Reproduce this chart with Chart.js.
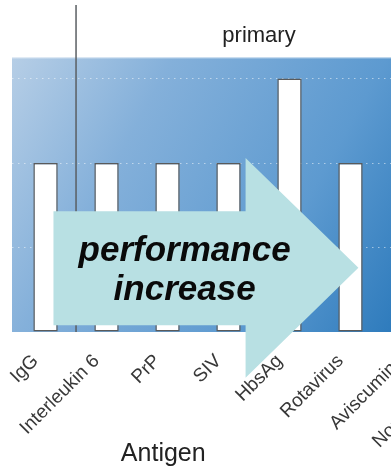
<!DOCTYPE html>
<html>
<head>
<meta charset="utf-8">
<script src="https://cdn.jsdelivr.net/npm/chart.js@4.4.1/dist/chart.umd.min.js"></script>
<style>
  html, body { margin: 0; padding: 0; background: #fff; overflow: hidden; }
  #wrap { position: relative; width: 391px; height: 468px; overflow: hidden; }
  #c { position: absolute; left: -60px; top: 0; }
</style>
</head>
<body>
<div id="wrap"><canvas id="c" width="600" height="468"></canvas></div>
<script>
// Antigen panel: one bar per antigen
const categories = ['IgG', 'Interleukin 6', 'PrP', 'SIV', 'HbsAg', 'Rotavirus', 'Aviscumine', 'Norovirus VLP'];
const responseValues = [2, 2, 2, 2, 3, 2, null, null];
const yTicks = [0, 1, 2, 3];
const panelTitle = 'primary';
const axisTitle = 'Antigen';
const arrowLines = ['performance', 'increase'];

const FONT = "'Liberation Sans', Arial, Helvetica, sans-serif";
Chart.defaults.font.family = FONT;

// gradient panel background, divider line and top edge
const panelDecor = {
  id: 'panelDecor',
  beforeDraw(chart) {
    const { ctx, chartArea: a } = chart;
    const g = ctx.createLinearGradient(a.left, a.top, a.right, a.bottom);
    g.addColorStop(0.0, '#b6cee6');
    g.addColorStop(0.25, '#84b0da');
    g.addColorStop(0.58, '#5d9ad0');
    g.addColorStop(0.84, '#2b79bb');
    g.addColorStop(1.0, '#1f6aae');
    ctx.save();
    ctx.fillStyle = g;
    ctx.fillRect(a.left, a.top, a.right - a.left, a.bottom - a.top);
    ctx.strokeStyle = 'rgba(255,255,255,0.55)';
    ctx.lineWidth = 1;
    ctx.beginPath();
    ctx.moveTo(a.left, a.top + 0.5);
    ctx.lineTo(a.right, a.top + 0.5);
    ctx.stroke();
    ctx.restore();
  },
  beforeDatasetsDraw(chart) {
    const { ctx, chartArea: a, scales } = chart;
    const x = scales.x.getPixelForValue(0.5);
    ctx.save();
    ctx.strokeStyle = '#5a5f63';
    ctx.lineWidth = 1.5;
    ctx.beginPath();
    ctx.moveTo(x, 5);
    ctx.lineTo(x, a.bottom);
    ctx.stroke();
    ctx.restore();
  }
};

// overlay arrow with caption, and the axis title
const arrowOverlay = {
  id: 'arrowOverlay',
  afterDraw(chart) {
    const { ctx, scales } = chart;
    const X = v => scales.x.getPixelForValue(v);
    const Y = v => scales.y.getPixelForValue(v);
    const bodyL = X(0.13), neck = X(3.28), tip = X(5.13);
    const bodyT = Y(1.43), bodyB = Y(0.08);
    const headT = Y(2.06), headB = Y(-0.54), tipY = Y(0.76);
    ctx.save();
    ctx.fillStyle = '#b8e0e3';
    ctx.beginPath();
    ctx.moveTo(bodyL, bodyT);
    ctx.lineTo(neck, bodyT);
    ctx.lineTo(neck, headT);
    ctx.lineTo(tip, tipY);
    ctx.lineTo(neck, headB);
    ctx.lineTo(neck, bodyB);
    ctx.lineTo(bodyL, bodyB);
    ctx.closePath();
    ctx.fill();

    ctx.fillStyle = '#0a0a0a';
    ctx.font = "italic bold 35px " + FONT;
    ctx.textAlign = 'center';
    ctx.textBaseline = 'middle';
    const cx = X(2.28);
    ctx.fillText(arrowLines[0], cx, Y(0.95));
    ctx.fillText(arrowLines[1], cx, Y(0.49));

    ctx.fillStyle = '#222';
    ctx.font = "25px " + FONT;
    ctx.textBaseline = 'alphabetic';
    ctx.fillText(axisTitle, X(1.93), 461);
    ctx.restore();
  }
};

new Chart(document.getElementById('c'), {
  type: 'bar',
  data: {
    datasets: [{
      data: categories.map((c, i) => ({ x: i, y: responseValues[i] })),
      backgroundColor: '#ffffff',
      borderColor: '#5a5a5a',
      borderWidth: 1.5,
      borderSkipped: false,
      barPercentage: 0.4,
      categoryPercentage: 1.0
    }]
  },
  options: {
    responsive: false,
    animation: false,
    devicePixelRatio: 1,
    layout: { padding: { left: 72, right: 34, top: 0, bottom: 0 } },
    plugins: {
      legend: { display: false },
      tooltip: { enabled: false },
      title: {
        display: true,
        text: panelTitle,
        color: '#222',
        font: { size: 22, weight: 'normal' },
        padding: { top: 23, bottom: 8 }
      }
    },
    scales: {
      x: {
        type: 'linear',
        min: -0.55,
        max: 7.55,
        offset: false,
        afterBuildTicks: axis => { axis.ticks = categories.map((c, i) => ({ value: i })); },
        afterFit: axis => { axis.height = 136; },
        grid: { display: false },
        border: { display: false },
        ticks: {
          autoSkip: false,
          minRotation: 45,
          maxRotation: 45,
          padding: 10,
          labelOffset: -10,
          color: '#383838',
          font: { size: 19 },
          callback: v => categories[v] ?? ''
        }
      },
      y: {
        min: 0,
        max: 3.25,
        afterBuildTicks: axis => { axis.ticks = yTicks.map(v => ({ value: v })); },
        afterFit: axis => { axis.width = 0; },
        ticks: { display: false },
        grid: {
          drawTicks: false,
          color: 'rgba(255,255,255,0.5)',
          lineWidth: 1
        },
        border: { display: false, dash: [1.5, 4.5] }
      }
    }
  },
  plugins: [panelDecor, arrowOverlay]
});
</script>
</body>
</html>
